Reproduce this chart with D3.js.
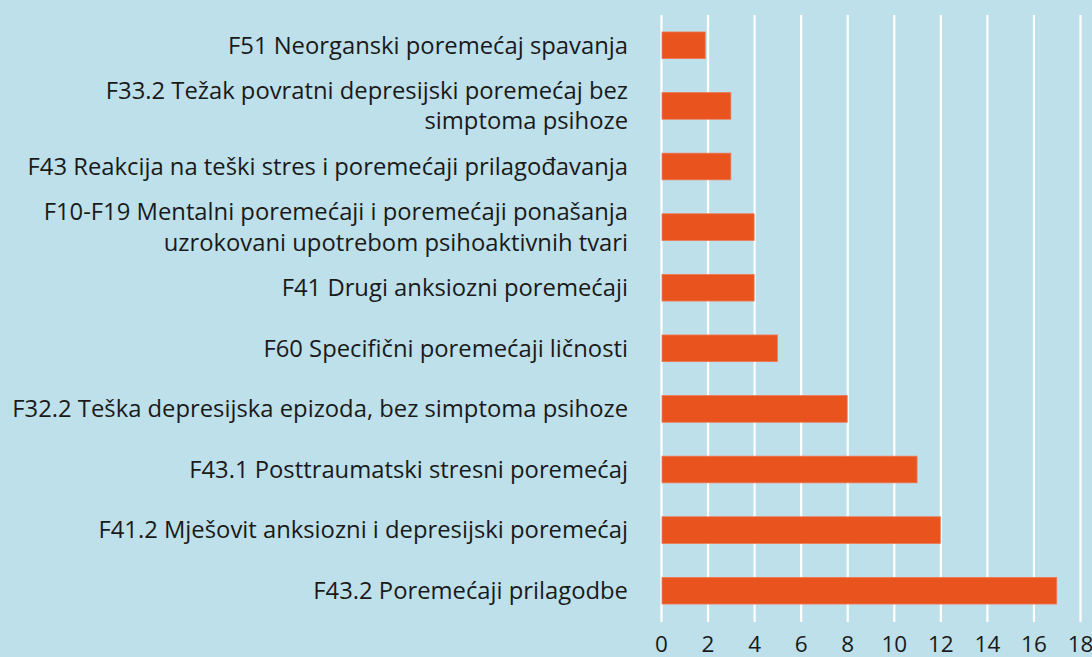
<!DOCTYPE html>
<html>
<head>
<meta charset="utf-8">
<script src="https://cdn.jsdelivr.net/npm/d3@7"></script>
<style>
  html, body { margin: 0; padding: 0; background: #bee0eb; }
  svg { display: block; }
  text { font-family: "Open Sans", sans-serif; fill: #1a1a1a; }
</style>
</head>
<body>
<script>
const w = 1092;
const h = 657;

// categories, top to bottom (lines split where the label wraps)
const categories = [
  ["F51 Neorganski poremećaj spavanja"],
  ["F33.2 Težak povratni depresijski poremećaj bez", "simptoma psihoze"],
  ["F43 Reakcija na teški stres i poremećaji prilagođavanja"],
  ["F10-F19 Mentalni poremećaji i poremećaji ponašanja", "uzrokovani upotrebom psihoaktivnih tvari"],
  ["F41 Drugi anksiozni poremećaji"],
  ["F60 Specifični poremećaji ličnosti"],
  ["F32.2 Teška depresijska epizoda, bez simptoma psihoze"],
  ["F43.1 Posttraumatski stresni poremećaj"],
  ["F41.2 Mješovit anksiozni i depresijski poremećaj"],
  ["F43.2 Poremećaji prilagodbe"]
];
const values = [1.9, 3, 3, 4, 4, 5, 8, 11, 12, 17];
const xTicks = [0, 2, 4, 6, 8, 10, 12, 14, 16, 18];

const keys = categories.map(d => d.join(" "));
const data = keys.map((k, i) => ({ key: k, lines: categories[i], value: values[i] }));

const svg = d3.select("body").append("svg")
  .attr("width", w)
  .attr("height", h);

svg.append("rect").attr("width", w).attr("height", h).attr("fill", "#bee0eb");

const x = d3.scaleLinear().domain([0, 18]).range([661, 1080]);
const y = d3.scaleBand().domain(keys).range([15, 621])
  .paddingInner(0.56).paddingOuter(0.28);

// vertical white gridlines
const grid = svg.append("g")
  .attr("transform", `translate(0, 622)`)
  .call(d3.axisBottom(x).tickValues(xTicks).tickSize(-607).tickFormat(""));
grid.select(".domain").remove();
grid.selectAll("line").attr("stroke", "#ffffff").attr("stroke-width", 2.2);

// bars
svg.selectAll("rect.bar")
  .data(data)
  .enter()
  .append("rect")
  .attr("class", "bar")
  .attr("x", x(0) + 1)
  .attr("y", d => y(d.key))
  .attr("width", d => x(d.value) - x(0) - 1)
  .attr("height", y.bandwidth())
  .attr("fill", "#e9531e")
  .attr("stroke", "#ee7a55")
  .attr("stroke-width", 0.8);

// category labels
const lineH = 30.5;
const labels = svg.selectAll("text.cat")
  .data(data)
  .enter()
  .append("text")
  .attr("class", "cat")
  .attr("text-anchor", "end")
  .attr("font-size", "23.8px")
  .attr("transform", d => `translate(628, ${y(d.key) + y.bandwidth() / 2})`);

labels.selectAll("tspan")
  .data(d => d.lines.map((t, i) => ({ t: t, i: i, n: d.lines.length })))
  .enter()
  .append("tspan")
  .attr("x", 0)
  .attr("y", d => (d.i - (d.n - 1) / 2) * lineH)
  .attr("dy", "0.35em")
  .text(d => d.t);

// x axis labels
const xAxis = svg.append("g")
  .attr("transform", `translate(0, 631)`)
  .call(d3.axisBottom(x).tickValues(xTicks).tickSize(0).tickPadding(0));
xAxis.select(".domain").remove();
xAxis.selectAll("text")
  .attr("font-size", "22.5px")
  .attr("font-family", "'Open Sans', sans-serif")
  .attr("fill", "#1a1a1a")
  .attr("dy", "0.95em");
</script>
</body>
</html>
